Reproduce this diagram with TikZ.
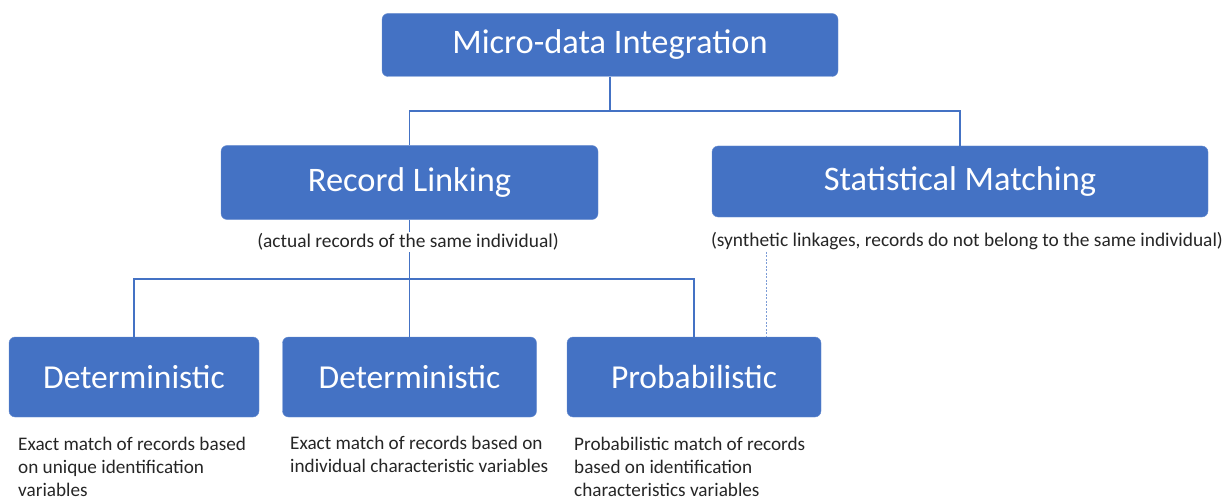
\documentclass[tikz,border=0pt]{standalone}
\usepackage{fontspec}
\setmainfont{Carlito}
\definecolor{boxblue}{HTML}{4472C4}
\definecolor{textgray}{HTML}{262626}

\begin{document}
\begin{tikzpicture}[x=1pt,y=-1pt,
    box/.style={draw=boxblue!80!white, fill=boxblue, rounded corners=6pt,
        text=white, inner sep=0pt, font=\fontsize{34.4}{40}\selectfont},
    small box/.style={box, font=\fontsize{33.5}{40}\selectfont},
    note/.style={fill=white, inner sep=2pt, text=textgray,
        font=\fontsize{19.4}{23}\selectfont},
    desc/.style={anchor=north west, align=left, inner sep=0pt, text=textgray,
        font=\fontsize{19.2}{23}\selectfont},
    link/.style={draw=boxblue, line width=1.1pt},
    dashlink/.style={draw=boxblue!70, line width=0.5pt, dash pattern=on 2pt off 1.5pt}]
    \useasboundingbox (0,0) rectangle (1232,500);

    % main boxes
    \node[box, minimum width=456pt, minimum height=63pt] (mdi) at (610,45) {Micro-data Integration};
    \node[box, minimum width=377pt, minimum height=74pt] (rl) at (409.5,182.5) {Record Linking};
    \node[box, minimum width=496pt, minimum height=71pt] (sm) at (960,181.5) {Statistical Matching};

    \node[small box, minimum width=250pt, minimum height=80pt] (det1) at (134,377) {Deterministic};
    \node[small box, minimum width=254pt, minimum height=80pt] (det2) at (409.5,377) {Deterministic};
    \node[small box, minimum width=254pt, minimum height=80pt] (prob) at (694,377) {Probabilistic};

    % connectors
    \coordinate (bar1) at (610,111);
    \coordinate (bar2) at (409.5,279);
    \draw[link] (mdi.south) -- (bar1) -| (rl.north);
    \draw[link] (bar1) -| (sm.north);
    \draw[link] (rl.south) -- (bar2) -- (det2.north);
    \draw[link] (bar2) -| (det1.north);
    \draw[link] (bar2) -| (prob.north);

    % notes under the boxes
    \node[note] (rlnote) at (408,242) {(actual records of the same individual)};
    \node[note] (smnote) at (967,241) {(synthetic linkages, records do not belong to the same individual)};

    \coordinate (dx) at (766,0);
    \draw[dashlink] (smnote.south -| dx) -- (prob.north -| dx);

    % descriptions
    \node[desc] (det1txt) at (18,437) {Exact match of records based\\on unique identification\\variables};
    \node[desc] (det2txt) at (290,436) {Exact match of records based on\\individual characteristic variables};
    \node[desc] (probtxt) at (574,437) {Probabilistic match of records\\based on identification\\characteristics variables};
\end{tikzpicture}
\end{document}
